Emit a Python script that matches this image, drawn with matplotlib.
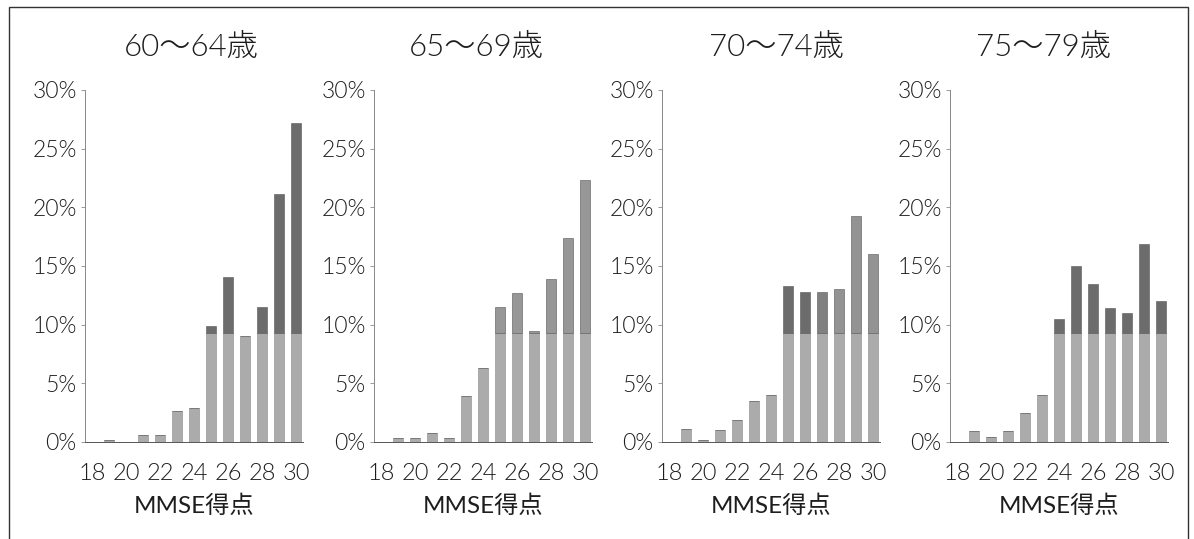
import matplotlib
matplotlib.use('Agg')
import matplotlib.pyplot as plt
from matplotlib.patches import Rectangle
import numpy as np

FONT = ['Lato', 'Noto Sans CJK JP', 'DejaVu Sans']
plt.rcParams['font.family'] = FONT
plt.rcParams['font.weight'] = 300

# --- データ ---
scores = np.arange(18, 31)
tick_scores = [18, 20, 22, 24, 26, 28, 30]
titles = ['60〜64歳', '65〜69歳', '70〜74歳', '75〜79歳']

pct_60_64 = [0, 0.2, 0, 0.6, 0.6, 2.6, 2.9, 9.9, 14.1, 9.0, 11.5, 21.1, 27.2]
pct_65_69 = [0, 0.35, 0.35, 0.75, 0.3, 3.9, 6.3, 11.5, 12.7, 9.5, 13.9, 17.4, 22.3]
pct_70_74 = [0, 1.1, 0.15, 1.0, 1.9, 3.5, 4.0, 13.3, 12.8, 12.8, 13.0, 19.3, 16.0]
pct_75_79 = [0, 0.95, 0.45, 0.95, 2.45, 4.0, 10.5, 15.0, 13.5, 11.45, 11.0, 16.9, 12.0]
series = [pct_60_64, pct_65_69, pct_70_74, pct_75_79]

split = 9.3  # 濃い色に切り替わる高さ

# --- スタイル ---
LOW = '#ababab'
TOP = ['#6c6c6c', '#979797', None, '#6c6c6c']
TOP_70 = ['#6c6c6c'] * 9 + ['#808080', '#939393', '#939393', '#939393']
TXT = '#1e1e1e'

W, H = 1194, 539
fig = plt.figure(figsize=(W / 100, H / 100), dpi=100)

# パネル位置 (px)
axis_left = [85, 374, 662, 950]
axis_w = 218
title_x = [191, 476, 776, 1044]
y0, y1 = 442, 90   # 0% と 30% の位置

for i, (vals, title) in enumerate(zip(series, titles)):
    xl = axis_left[i]
    ax = fig.add_axes([xl / W, (H - y0) / H, axis_w / W, (y0 - y1) / H])
    vals = np.array(vals)
    low = np.minimum(vals, split)
    top = np.clip(vals - split, 0, None)
    tops = TOP_70 if TOP[i] is None else [TOP[i]] * len(scores)
    ax.bar(scores, low, width=0.6, color=LOW, edgecolor='#8a8a8a', linewidth=0.4)
    ax.bar(scores, top, bottom=low, width=0.6, color=tops, edgecolor='#555555', linewidth=0.4)

    ax.set_xlim(17.59, 30.41)
    ax.set_ylim(0, 30)
    yt = [0, 5, 10, 15, 20, 25, 30]
    ax.set_yticks(yt)
    ax.set_yticklabels([f'{v}%' for v in yt])
    ax.set_xticks(tick_scores)
    ax.set_xticklabels([str(s) for s in tick_scores])
    for s in ['top', 'right']:
        ax.spines[s].set_visible(False)
    ax.spines['left'].set_color('#888888')
    ax.spines['left'].set_linewidth(0.7)
    ax.spines['bottom'].set_color('#555555')
    ax.spines['bottom'].set_linewidth(0.7)
    ax.tick_params(axis='y', length=3, width=0.6, color='#888888', labelsize=16.5, pad=3, labelcolor=TXT)
    ax.tick_params(axis='x', length=0, labelsize=17, pad=15, labelcolor=TXT)
    ax.set_xlabel('MMSE得点', fontsize=17.5, color=TXT)
    ax.xaxis.set_label_coords(0.5, (y0 - 506) / (y0 - y1))
    ax.xaxis.label.set_va('center')
    ax.patch.set_visible(False)
    fig.text(title_x[i] / W, 1 - 47 / H, title, ha='center', va='center',
             fontsize=22.5, color=TXT)

# 外枠
fig.add_artist(Rectangle((9 / W, -0.05), (1188 - 9) / W, 1.05 - 7 / H,
                         transform=fig.transFigure, fill=False,
                         edgecolor='#333333', linewidth=1.0))

fig.savefig('out.png', dpi=100)
